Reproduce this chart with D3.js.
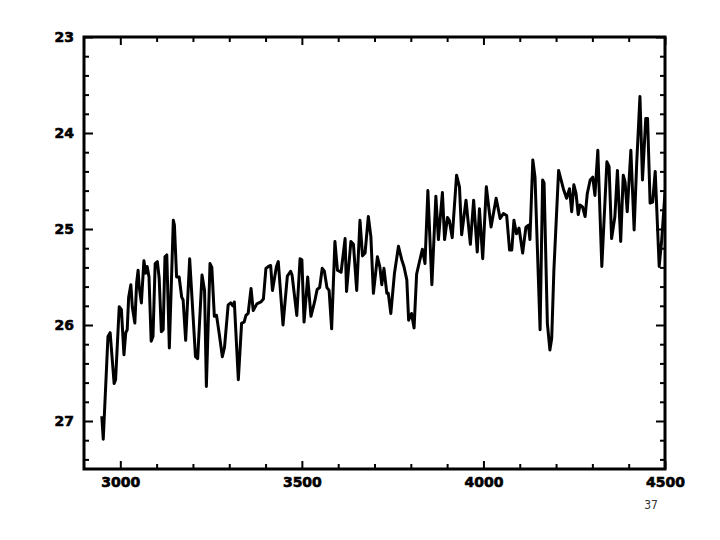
<!DOCTYPE html>
<html>
<head>
<meta charset="utf-8">
<script src="https://cdn.jsdelivr.net/npm/d3@7"></script>
<style>
  html, body { margin: 0; padding: 0; background: #fff; }
  svg { display: block; }
  .tick text { font-family: "DejaVu Sans", sans-serif; font-weight: bold; font-size: 14px; fill: #000; stroke: #000; stroke-width: 0.6px; }
  .tick line { stroke: #000; stroke-width: 2; }
</style>
</head>
<body>
<script>
// wavelength (x) and magnitude (y, plotted inverted)
const waves = [2949, 2953, 2966, 2972, 2983, 2987, 2997, 3003, 3010, 3015, 3019, 3023, 3029, 3033, 3040, 3045, 3049, 3052, 3058, 3065,
  3070, 3074, 3079, 3085, 3090, 3096, 3102, 3107, 3113, 3118, 3123, 3128, 3135, 3146, 3149, 3155, 3162, 3169, 3173, 3180,
  3191, 3207, 3213, 3225, 3232, 3237, 3247, 3252, 3259, 3265, 3272, 3281, 3287, 3297, 3304, 3310, 3314, 3325, 3334, 3341,
  3346, 3352, 3360, 3366, 3376, 3387, 3394, 3401, 3408, 3414, 3419, 3430, 3435, 3448, 3460, 3469, 3473, 3486, 3495, 3500,
  3506, 3516, 3525, 3535, 3542, 3549, 3556, 3562, 3569, 3575, 3582, 3591, 3598, 3608, 3619, 3623, 3635, 3642, 3651, 3660,
  3667, 3674, 3683, 3690, 3697, 3708, 3715, 3720, 3726, 3734, 3738, 3745, 3755, 3766, 3775, 3781, 3789, 3794, 3802, 3809,
  3816, 3825, 3832, 3839, 3847, 3858, 3869, 3876, 3887, 3893, 3901, 3906, 3914, 3926, 3934, 3940, 3952, 3964, 3973, 3983,
  3989, 3998, 4008, 4021, 4035, 4046, 4055, 4064, 4072, 4078, 4084, 4091, 4098, 4108, 4117, 4124, 4128, 4136, 4142, 4156,
  4163, 4167, 4176, 4183, 4188, 4194, 4207, 4214, 4220, 4229, 4237, 4243, 4249, 4255, 4261, 4266, 4273, 4280, 4286, 4294,
  4301, 4307, 4315, 4326, 4340, 4346, 4353, 4362, 4369, 4378, 4385, 4390, 4396, 4406, 4415, 4422, 4431, 4438, 4447, 4452,
  4459, 4466, 4473, 4484, 4491, 4500];
const mags = [26.95, 27.19, 26.12, 26.08, 26.61, 26.57, 25.81, 25.84, 26.31, 26.08, 26.05, 25.71, 25.58, 25.81, 25.98, 25.56, 25.43, 25.60, 25.77, 25.33,
  25.46, 25.39, 25.50, 26.17, 26.12, 25.36, 25.34, 25.51, 26.07, 26.05, 25.29, 25.27, 26.24, 24.91, 24.96, 25.50, 25.50, 25.71, 25.74, 26.16,
  25.31, 26.33, 26.35, 25.48, 25.64, 26.64, 25.36, 25.40, 25.91, 25.90, 26.08, 26.33, 26.23, 25.79, 25.77, 25.80, 25.76, 26.57, 25.98, 25.97,
  25.90, 25.88, 25.62, 25.85, 25.78, 25.76, 25.73, 25.41, 25.39, 25.38, 25.64, 25.39, 25.34, 26.00, 25.49, 25.44, 25.48, 25.90, 25.31, 25.32,
  25.97, 25.50, 25.91, 25.76, 25.63, 25.61, 25.41, 25.44, 25.61, 25.64, 26.04, 25.13, 25.43, 25.45, 25.10, 25.65, 25.13, 25.16, 25.64, 24.91,
  25.28, 25.25, 24.87, 25.08, 25.67, 25.29, 25.40, 25.58, 25.41, 25.67, 25.67, 25.88, 25.46, 25.18, 25.32, 25.39, 25.53, 25.95, 25.88, 26.03,
  25.47, 25.32, 25.21, 25.36, 24.60, 25.58, 24.66, 25.11, 24.62, 25.11, 24.88, 24.91, 25.09, 24.44, 24.56, 25.06, 24.70, 25.16, 24.70, 25.24,
  24.79, 25.31, 24.56, 24.98, 24.68, 24.89, 24.84, 24.86, 25.22, 25.22, 24.91, 25.05, 24.99, 25.25, 24.98, 24.96, 25.11, 24.28, 24.46, 26.05,
  24.49, 24.52, 25.98, 26.26, 26.14, 25.43, 24.39, 24.49, 24.58, 24.68, 24.58, 24.82, 24.54, 24.63, 24.85, 24.75, 24.77, 24.87, 24.63, 24.49,
  24.46, 24.65, 24.18, 25.39, 24.30, 24.35, 25.10, 24.87, 24.39, 25.13, 24.44, 24.51, 24.82, 24.18, 25.01, 24.32, 23.62, 24.49, 23.85, 23.85,
  24.73, 24.72, 24.40, 25.39, 25.11, 24.62];

const xMajor = [3000, 3500, 4000, 4500];
const xMinor = [3100, 3200, 3300, 3400, 3600, 3700, 3800, 3900, 4100, 4200, 4300, 4400];
const yMajor = [23, 24, 25, 26, 27];
const yMinor = [23.2, 23.4, 23.6, 23.8, 24.2, 24.4, 24.6, 24.8, 25.2, 25.4, 25.6, 25.8, 26.2, 26.4, 26.6, 26.8, 27.2, 27.4];
const pageNumber = "37";

const W = 720, H = 540;
const plotLeft = 84, plotRight = 665, plotTop = 37, plotBottom = 469;

const svg = d3.select('body').append('svg')
  .attr('width', W).attr('height', H);

const x = d3.scaleLinear().domain([2900, 4500]).range([plotLeft, plotRight]);
const y = d3.scaleLinear().domain([23, 27.5]).range([plotTop, plotBottom]);

// axes, ticks pointing inward
function addAxis(axis, tx, ty) {
  const g = svg.append('g').attr('transform', `translate(${tx},${ty})`).call(axis);
  g.select('.domain').remove();
  return g;
}

addAxis(d3.axisBottom(x).tickValues(xMajor).tickSize(-8).tickPadding(8).tickFormat(d3.format('d')), 0, plotBottom);
addAxis(d3.axisBottom(x).tickValues(xMinor).tickSize(-5).tickFormat(''), 0, plotBottom);
addAxis(d3.axisTop(x).tickValues(xMajor).tickSize(-8).tickFormat(''), 0, plotTop);
addAxis(d3.axisTop(x).tickValues(xMinor).tickSize(-5).tickFormat(''), 0, plotTop);

addAxis(d3.axisLeft(y).tickValues(yMajor).tickSize(-9).tickPadding(10).tickFormat(d3.format('d')), plotLeft, 0);
addAxis(d3.axisLeft(y).tickValues(yMinor).tickSize(-5).tickFormat(''), plotLeft, 0);
addAxis(d3.axisRight(y).tickValues(yMajor).tickSize(-9).tickFormat(''), plotRight, 0);
addAxis(d3.axisRight(y).tickValues(yMinor).tickSize(-5).tickFormat(''), plotRight, 0);

// the data line, clipped to the frame
svg.append('clipPath').attr('id', 'plot-clip')
  .append('rect').attr('x', plotLeft).attr('y', plotTop)
  .attr('width', plotRight - plotLeft).attr('height', plotBottom - plotTop);

const pts = waves.map((w, i) => [w, mags[i]]);
svg.append('path')
  .datum(pts)
  .attr('clip-path', 'url(#plot-clip)')
  .attr('fill', 'none')
  .attr('stroke', '#000')
  .attr('stroke-width', 3)
  .attr('stroke-linejoin', 'round')
  .attr('d', d3.line().x(d => x(d[0])).y(d => y(d[1])));

// frame
svg.append('rect')
  .attr('x', plotLeft).attr('y', plotTop)
  .attr('width', plotRight - plotLeft).attr('height', plotBottom - plotTop)
  .attr('fill', 'none')
  .attr('stroke', '#000')
  .attr('stroke-width', 3);

// page number
svg.append('text')
  .attr('x', 651).attr('y', 509)
  .attr('text-anchor', 'middle')
  .style('font-family', '"DejaVu Sans Condensed", "DejaVu Sans", sans-serif')
  .style('font-size', '12px')
  .style('fill', '#333')
  .text(pageNumber);
</script>
</body>
</html>
